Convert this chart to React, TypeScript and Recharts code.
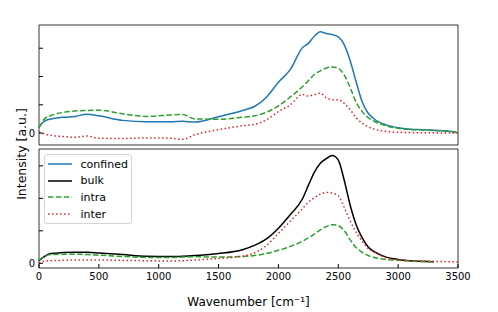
import React from 'react';
import { LineChart, Line, XAxis, YAxis, ReferenceArea, Legend } from 'recharts';

// wavenumber grid (cm^-1)
const wavenumbers = [
  0, 50, 100, 200, 300, 400, 500, 700, 900, 1100, 1200, 1300, 1500, 1700, 1800, 1900, 2000, 2100, 2200,
  2250, 2300, 2350, 2400, 2450, 2500, 2550, 2600, 2650, 2700, 2750, 2800, 2900, 3000, 3100, 3200, 3300,
  3400, 3500,
];

// top panel
const confined = [
  0.22, 0.43, 0.5, 0.56, 0.59, 0.67, 0.61, 0.45, 0.4, 0.4, 0.42, 0.39, 0.58, 0.8, 0.94, 1.27, 1.8, 2.25,
  3.02, 3.17, 3.42, 3.58, 3.52, 3.48, 3.4, 3.12, 2.55, 1.8, 1.1, 0.7, 0.5, 0.29, 0.19, 0.14, 0.12, 0.1,
  0.08, 0.01,
];
const intraTop = [
  0.19, 0.52, 0.62, 0.73, 0.78, 0.8, 0.81, 0.68, 0.59, 0.64, 0.66, 0.5, 0.49, 0.56, 0.61, 0.74, 0.96, 1.28,
  1.64, 1.85, 2.07, 2.2, 2.3, 2.34, 2.29, 2.05, 1.6, 1.08, 0.76, 0.55, 0.42, 0.26, 0.17, 0.13, 0.11, 0.09,
  0.07, 0.02,
];
const interTop = [
  0.04, -0.03, -0.08, -0.12, -0.15, -0.1, -0.18, -0.19, -0.17, -0.18, -0.22, -0.06, 0.12, 0.26, 0.31, 0.47,
  0.76, 1.0, 1.37, 1.31, 1.36, 1.41, 1.25, 1.18, 1.18, 1.05, 0.82, 0.54, 0.35, 0.22, 0.14, 0.06, 0.03, 0.02,
  0.01, 0.01, 0.0, 0.0,
];

// bottom panel
const bulk = [
  0.08, 0.22, 0.3, 0.33, 0.34, 0.34, 0.32, 0.27, 0.22, 0.21, 0.22, 0.24, 0.3, 0.42, 0.55, 0.75, 1.08, 1.5,
  1.98, 2.4, 2.8, 3.08, 3.22, 3.32, 3.18, 2.55, 1.78, 1.18, 0.78, 0.5, 0.36, 0.19, 0.12, 0.08, 0.06, 0.05,
  null, null,
];
const intraBottom = [
  0.1, 0.22, 0.27, 0.28, 0.28, 0.27, 0.25, 0.21, 0.18, 0.18, 0.19, 0.2, 0.19, 0.21, 0.24, 0.3, 0.4, 0.52,
  0.68, 0.78, 0.9, 1.03, 1.13, 1.19, 1.16, 1.0, 0.72, 0.48, 0.34, 0.24, 0.18, 0.12, 0.09, 0.07, 0.05, 0.04,
  null, null,
];
const interBottom = [
  0.0, 0.07, 0.08, 0.09, 0.1, 0.1, 0.1, 0.09, 0.08, 0.07, 0.08, 0.1, 0.15, 0.22, 0.32, 0.55, 0.92, 1.3,
  1.68, 1.88, 2.02, 2.13, 2.18, 2.16, 2.08, 1.72, 1.3, 0.95, 0.68, 0.46, 0.34, 0.17, 0.1, 0.08, 0.07, 0.06,
  0.05, 0.04,
];

const xTicks = [0, 500, 1000, 1500, 2000, 2500, 3000, 3500];
const yTicks = [0, 1, 2, 3];

const legendItems = [
  { name: 'confined', color: '#1f77b4', dash: undefined },
  { name: 'bulk', color: '#000000', dash: undefined },
  { name: 'intra', color: '#2ca02c', dash: '5.5 2.4' },
  { name: 'inter', color: '#d62728', dash: '1.5 2.5' },
];

const topData = wavenumbers.map((w, i) => ({ w, confined: confined[i], intra: intraTop[i], inter: interTop[i] }));
const bottomData = wavenumbers.map((w, i) => ({ w, bulk: bulk[i], intra: intraBottom[i], inter: interBottom[i] }));

const FONT = 'DejaVu Sans';
const tickStyle = { fontSize: 10, fill: '#000', fontFamily: FONT };
const TOP_DOMAIN: [number, number] = [-0.42, 3.82];
const BOTTOM_DOMAIN: [number, number] = [-0.145, 3.52];

const renderLegend = () => (
  <div
    style={{
      boxSizing: 'border-box',
      border: '1px solid #d4d4d4',
      borderRadius: 3,
      background: 'rgba(255,255,255,0.8)',
      padding: '1px 0 1px 3px',
      fontFamily: FONT,
      fontSize: 11,
      width: 88,
      height: 70,
    }}
  >
    {legendItems.map((it) => (
      <div key={it.name} style={{ display: 'flex', alignItems: 'center', height: 16.6 }}>
        <svg width={24} height={8} style={{ marginRight: 8.5, flexShrink: 0 }}>
          <line x1={0} y1={4} x2={24} y2={4} stroke={it.color} strokeWidth={1.5} strokeDasharray={it.dash} />
        </svg>
        <span>{it.name}</span>
      </div>
    ))}
  </div>
);

export default function App() {
  return (
    <div style={{ position: 'absolute', left: 0, top: 0, width: 498, height: 312, background: '#fff' }}>
      <LineChart width={498} height={147} data={topData} margin={{ top: 25, right: 40, left: 0, bottom: 2 }}>
        <XAxis
          dataKey="w"
          type="number"
          domain={[0, 3500]}
          ticks={xTicks}
          height={0}
          axisLine={false}
          tickSize={-4}
          tickLine={{ stroke: '#000' }}
          tickFormatter={() => ''}
        />
        <YAxis
          type="number"
          domain={TOP_DOMAIN}
          ticks={yTicks}
          width={39}
          axisLine={false}
          tickSize={-4}
          tickMargin={8}
          tickLine={{ stroke: '#000' }}
          tick={tickStyle}
          tickFormatter={(v) => (v === 0 ? '0' : '')}
        />
        <ReferenceArea x1={0} x2={3500} y1={TOP_DOMAIN[0]} y2={TOP_DOMAIN[1]} fill="none" stroke="#000" strokeWidth={0.8} />
        <Line type="monotone" dataKey="confined" stroke="#1f77b4" strokeWidth={1.5} dot={false} isAnimationActive={false} />
        <Line type="monotone" dataKey="intra" stroke="#2ca02c" strokeWidth={1.5} strokeDasharray="5.5 2.4" dot={false} isAnimationActive={false} />
        <Line type="monotone" dataKey="inter" stroke="#d62728" strokeWidth={1.5} strokeDasharray="1.5 2.5" dot={false} isAnimationActive={false} />
      </LineChart>
      <LineChart width={498} height={165} data={bottomData} margin={{ top: 2, right: 40, left: 0, bottom: 0 }}>
        <XAxis
          dataKey="w"
          type="number"
          domain={[0, 3500]}
          ticks={xTicks}
          height={44}
          axisLine={false}
          tickSize={-4}
          tickMargin={9}
          tickLine={{ stroke: '#000' }}
          tick={tickStyle}
          label={{ value: 'Wavenumber [cm⁻¹]', position: 'insideBottom', offset: 6, fontSize: 12, fill: '#000', fontFamily: FONT }}
        />
        <YAxis
          type="number"
          domain={BOTTOM_DOMAIN}
          ticks={yTicks}
          width={39}
          axisLine={false}
          tickSize={-4}
          tickMargin={8}
          tickLine={{ stroke: '#000' }}
          tick={tickStyle}
          tickFormatter={(v) => (v === 0 ? '0' : '')}
        />
        <ReferenceArea x1={0} x2={3500} y1={BOTTOM_DOMAIN[0]} y2={BOTTOM_DOMAIN[1]} fill="none" stroke="#000" strokeWidth={0.8} />
        <Line type="monotone" dataKey="bulk" stroke="#000000" strokeWidth={1.5} dot={false} isAnimationActive={false} />
        <Line type="monotone" dataKey="intra" stroke="#2ca02c" strokeWidth={1.5} strokeDasharray="5.5 2.4" dot={false} isAnimationActive={false} />
        <Line type="monotone" dataKey="inter" stroke="#d62728" strokeWidth={1.5} strokeDasharray="1.5 2.5" dot={false} isAnimationActive={false} />
        <Legend
          layout="vertical"
          align="center"
          verticalAlign="middle"
          content={renderLegend}
          wrapperStyle={{ left: 44, top: 7, width: 'auto', height: 'auto' }}
        />
      </LineChart>
      <div
        style={{
          position: 'absolute',
          left: 21,
          top: 154,
          transform: 'translate(-50%, -50%) rotate(-90deg)',
          fontFamily: FONT,
          fontSize: 12.5,
          whiteSpace: 'nowrap',
          color: '#000',
        }}
      >
        Intensity [a.u.]
      </div>
    </div>
  );
}
